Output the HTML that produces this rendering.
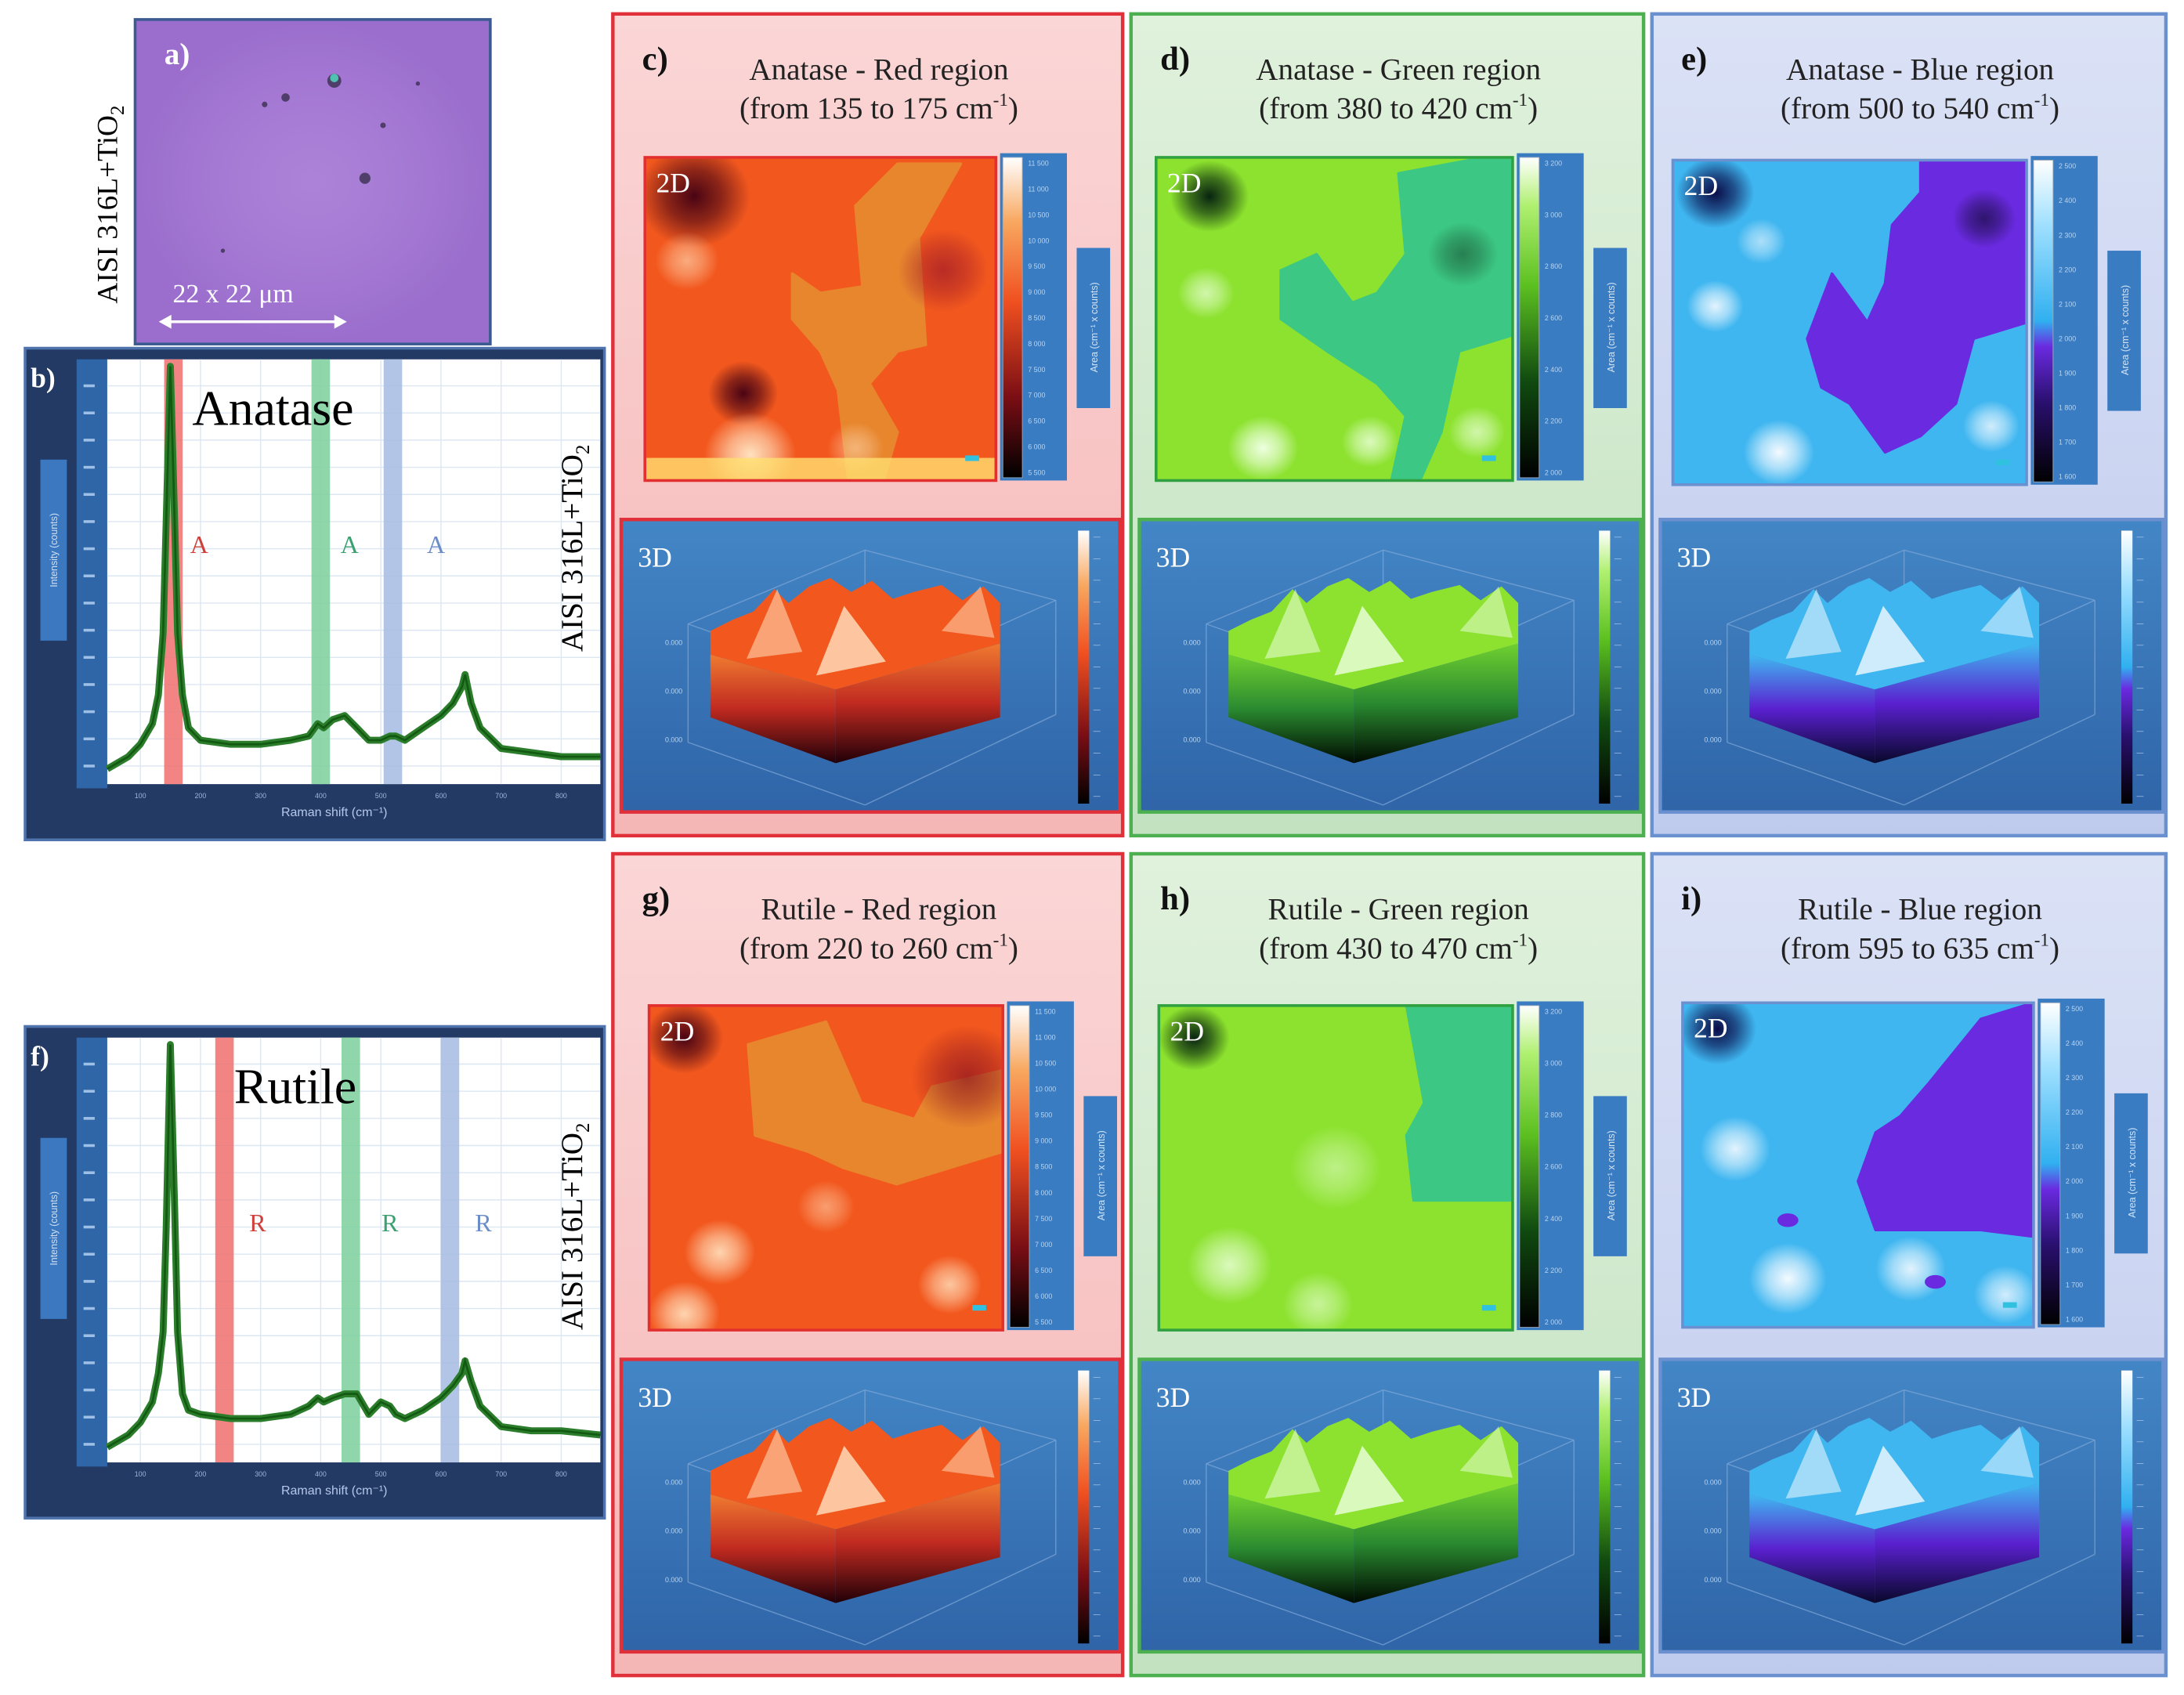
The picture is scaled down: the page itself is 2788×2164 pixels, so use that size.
<!DOCTYPE html>
<html><head><meta charset="utf-8">
<style>
html,body{margin:0;padding:0;background:#fff;}
svg{display:block;}
text{font-family:"Liberation Serif",serif;}
.sans{font-family:"Liberation Sans",sans-serif;}
</style></head>
<body>
<svg id="fig" xmlns="http://www.w3.org/2000/svg" width="2788" height="2164" viewBox="0 0 1568 1217" preserveAspectRatio="none">
<rect x="0" y="0" width="1568" height="1217" fill="#ffffff"/>
<defs></defs>
</svg>
<script>
// ---- spectrum data ----
const ramanShift=[45,80,100,120,130,138,143,150,157,162,170,180,200,250,300,350,380,395,405,420,440,460,480,500,515,525,540,570,600,620,635,640,650,665,700,750,800,865];
const anataseIntensity=[.02,.05,.08,.13,.2,.35,.62,1.0,.62,.35,.2,.12,.09,.08,.08,.09,.1,.13,.12,.14,.15,.12,.09,.09,.1,.1,.09,.12,.15,.18,.22,.25,.18,.12,.07,.06,.05,.05];
const rutileIntensity=[.02,.05,.08,.13,.2,.3,.55,1.0,.6,.3,.15,.11,.1,.09,.09,.1,.12,.14,.13,.14,.15,.15,.1,.13,.12,.1,.09,.11,.14,.17,.2,.23,.18,.12,.07,.06,.06,.05];
const anataseBands=[[135,175],[380,420],[500,540]];
const rutileBands=[[220,260],[430,470],[595,635]];
const xTicks=[100,200,300,400,500,600,700,800];
const xDomain=[45,865];

const NS='http://www.w3.org/2000/svg';
const svg=document.getElementById('fig');
const defs=svg.querySelector('defs');
function el(tag,attrs,parent){const e=document.createElementNS(NS,tag);for(const k in attrs)e.setAttribute(k,attrs[k]);(parent||svg).appendChild(e);return e;}
function txt(s,attrs,parent){const t=el('text',attrs,parent);t.textContent=s;return t;}
let gid=0;
function linGrad(stops,vertical){const id='g'+(gid++);const g=el('linearGradient',vertical?{id,x1:0,y1:1,x2:0,y2:0}:{id,x1:0,y1:0,x2:1,y2:0},defs);stops.forEach(s=>el('stop',{offset:s[0],'stop-color':s[1]},g));return 'url(#'+id+')';}
function radGrad(color,op){const id='g'+(gid++);const g=el('radialGradient',{id},defs);el('stop',{offset:0,'stop-color':color,'stop-opacity':op},g);el('stop',{offset:0.5,'stop-color':color,'stop-opacity':op*0.6},g);el('stop',{offset:1,'stop-color':color,'stop-opacity':0},g);return 'url(#'+id+')';}

// ---- panel a ----
const pa=el('g',{});


el('rect',{x:97,y:14,width:255,height:233,fill:'#9b6ecd',stroke:'#3a5a90','stroke-width':2},pa);
el('rect',{x:99,y:16,width:251,height:229,fill:radGrad('#b890e0',0.6)},pa);
[[205,70,3],[240,58,5],[262,128,4],[190,75,2],[275,90,2],[160,180,1.5],[300,60,1.5]].forEach(p=>el('circle',{cx:p[0],cy:p[1],r:p[2],fill:'#3a3050',opacity:.8},pa));
el('circle',{cx:240,cy:56,r:3,fill:'#50c0b0'},pa);
txt('a)',{x:118,y:46,fill:'#fff','font-size':22,'font-weight':'bold'},pa);
txt('22 x 22 μm',{x:124,y:217,fill:'#fff','font-size':19},pa);
el('line',{x1:120,y1:231,x2:243,y2:231,stroke:'#fff','stroke-width':2},pa);
el('path',{d:'M114,231 l9,-5 v10 z M249,231 l-9,-5 v10 z',fill:'#fff'},pa);
const vt1=txt('AISI 316L+TiO',{x:0,y:0,'font-size':21,fill:'#000',transform:'translate(84,218) rotate(-90)'});


el('tspan',{'font-size':14,dy:5},vt1).textContent='2';

// ---- spectra ----
function spectrum(name,label,title,titleX,y0,intensity,bands,letter,letterX){
  const g=el('g',{});
  
  
  const H=353;
  el('rect',{x:18,y:y0,width:416,height:H,fill:'#223a64',stroke:'#4f73ad','stroke-width':2},g);
  el('rect',{x:55,y:y0+8,width:22,height:H-45,fill:'#2f66a8'},g);
  const px0=77,px1=431,py0=y0+8,py1=y0+H-40;
  el('rect',{x:px0,y:py0,width:px1-px0,height:py1-py0,fill:'#ffffff'},g);
  const X=v=>px0+(v-xDomain[0])/(xDomain[1]-xDomain[0])*(px1-px0);
  const Y=v=>py1-5-v*(py1-py0-10);
  for(let yy=py0+19;yy<py1;yy+=19.5){el('line',{x1:px0,y1:yy,x2:px1,y2:yy,stroke:'#dde7f2','stroke-width':.8},g);
    el('rect',{x:60,y:yy-1,width:8,height:2,fill:'#9fc0e6'},g);}
  xTicks.forEach(t=>{el('line',{x1:X(t),y1:py0,x2:X(t),y2:py1,stroke:'#dde7f2','stroke-width':.8},g);
    txt(String(t),{x:X(t),y:py1+10,'font-size':5,fill:'#9fb4d8','text-anchor':'middle',class:'sans'},g);});
  const bandColors=['#f0706e','#7ccf9c','#a4bbe2'];
  bands.forEach((b,i)=>{const r=el('rect',{x:X(b[0])+2,y:py0,width:X(b[1])-X(b[0])-4,height:py1-py0,fill:bandColors[i],opacity:.85},g);
    
    });
  let d='';ramanShift.forEach((s,i)=>{d+=(i?'L':'M')+X(s).toFixed(1)+','+Y(intensity[i]).toFixed(1);});
  const line=el('path',{d,fill:'none',stroke:'#2b7d2b','stroke-width':5,'stroke-linejoin':'round'},g);
  
  
  el('path',{d,fill:'none',stroke:'#125a12','stroke-width':1.5},g);
  const lc=['#d0403a','#3aa070','#6a8cc8'];
  letterX.forEach((lx,i)=>txt(letter,{x:lx,y:y0+147,'font-size':18,fill:lc[i],'text-anchor':'middle'},g));
  txt(title,{x:titleX,y:y0+55,'font-size':36,fill:'#000'},g);
  txt(label,{x:22,y:y0+28,'font-size':20,'font-weight':'bold',fill:'#fff'},g);
  const yb=el('rect',{x:29,y:y0+80,width:19,height:130,fill:'#3b78c0'},g);
  txt('Intensity (counts)',{x:0,y:0,'font-size':7,fill:'#cfe0f5','text-anchor':'middle',class:'sans',transform:`translate(41,${y0+145}) rotate(-90)`},g);
  txt('Raman shift (cm⁻¹)',{x:240,y:y0+H-17,'font-size':9,fill:'#b6c8ea','text-anchor':'middle',class:'sans'},g);
  const vt=txt('AISI 316L+TiO',{x:0,y:0,'font-size':22,fill:'#000',transform:`translate(418,${y0+218}) rotate(-90)`},g);
  el('tspan',{'font-size':14,dy:5},vt).textContent='2';
}
spectrum('panel-b-anatase-spectrum','b)','Anatase',138,250,anataseIntensity,anataseBands,'A',[143,251,313]);
spectrum('panel-f-rutile-spectrum','f)','Rutile',168,737,rutileIntensity,rutileBands,'R',[185,280,347]);

// ---- map panels ----
const themes={
 red:{bg:['#f5b6b6','#fbd6d6'],border:'#e0303a',base:'#f2581e',region:'#e8862e',cb:[[0,'#000'],[.25,'#7a0e14'],[.55,'#f05020'],[.8,'#f8a860'],[1,'#fff']],dark:'#4a0414',light:'#ffe2c0',front:['#f07a30','#c02a20','#200008']},
 green:{bg:['#c2e2c0','#e0f1dc'],border:'#4cb050',base:'#8ce22e',region:'#3cc884',cb:[[0,'#000'],[.3,'#104a10'],[.6,'#5cc020'],[.85,'#b0f070'],[1,'#fff']],dark:'#082410',light:'#eeffe0',front:['#70d030','#2a8a30','#000a00']},
 blue:{bg:['#bfcbed','#dbe2f6'],border:'#6a90d0',base:'#3fb6f0',region:'#6a2ae0',cb:[[0,'#000'],[.25,'#2a1070'],[.42,'#6a2ae0'],[.5,'#30b0f0'],[.8,'#a0e0ff'],[1,'#fff']],dark:'#0a0c48',light:'#f4faff',front:['#40b8f0','#5a20d0','#08082a']}
};
const panels=[
 {id:'c',t1:'Anatase  - Red region',t2:'(from  135 to 175 cm',th:'red',x:440,w:366,y:10,map:[463,113,252,232],
  region:[[.42,.36],[.5,.42],[.62,.4],[.6,.15],[.72,.02],[.9,.02],[.78,.25],[.8,.58],[.72,.6],[.64,.7],[.72,.85],[.68,1],[.58,1],[.55,.72],[.5,.6],[.42,.5]],
  blobs:[[.14,.12,.16,'dark',1],[.28,.73,.1,'dark',1],[.85,.35,.13,'#a01828',.7],[.3,.92,.13,'light',1],[.12,.32,.09,'light',.6],[.6,.9,.08,'light',.5]],strip:'#ffe070'},
 {id:'d',t1:'Anatase - Green region',t2:'(from 380 to 420 cm',th:'green',x:812,w:368,y:10,map:[830,113,256,232],
  region:[[.35,.35],[.45,.3],[.55,.45],[.62,.42],[.7,.3],[.68,.05],[.92,0],[1,0],[1,.55],[.85,.6],[.8,.85],[.74,1],[.66,1],[.7,.8],[.62,.7],[.48,.6],[.35,.5]],
  blobs:[[.15,.12,.11,'dark',1],[.86,.3,.1,'#1a5030',.6],[.3,.9,.1,'light',1],[.6,.88,.08,'light',.8],[.14,.42,.08,'light',.7],[.9,.85,.08,'light',.7]],strip:null},
 {id:'e',t1:'Anatase - Blue region',t2:'(from 500 to 540 cm',th:'blue',x:1186,w:369,y:10,map:[1201,115,254,233],
  region:[[.38,.55],[.45,.35],[.55,.5],[.6,.38],[.62,.2],[.7,.1],[.7,0],[1,0],[1,.5],[.85,.55],[.8,.75],[.7,.85],[.6,.9],[.5,.75],[.42,.7]],
  blobs:[[.12,.1,.11,'dark',1],[.88,.18,.09,'#201050',.8],[.3,.9,.1,'light',1],[.12,.45,.08,'light',.9],[.9,.82,.08,'light',.8],[.25,.25,.07,'light',.6]],strip:null},
 {id:'g',t1:'Rutile  - Red region',t2:'(from  220 to 260 cm',th:'red',x:440,w:366,y:613,map:[466,722,254,233],
  region:[[.28,.12],[.5,.05],[.6,.3],[.75,.35],[.8,.25],[1,.2],[1,.45],[.85,.5],[.7,.55],[.55,.5],[.45,.45],[.3,.4]],
  blobs:[[.1,.1,.11,'dark',1],[.9,.22,.16,'#8a1020',.7],[.2,.76,.1,'light',.9],[.1,.95,.1,'light',.9],[.85,.86,.09,'light',.8],[.5,.62,.08,'light',.5]],strip:null},
 {id:'h',t1:'Rutile - Green region',t2:'(from 430 to 470 cm',th:'green',x:812,w:368,y:613,map:[832,722,254,233],
  region:[[.7,0],[1,0],[1,.6],[.72,.6],[.7,.4],[.75,.3]],
  blobs:[[.1,.1,.1,'dark',1],[.2,.8,.12,'light',.8],[.5,.5,.13,'light',.5],[.45,.92,.1,'light',.6]],strip:null},
 {id:'i',t1:'Rutile - Blue region',t2:'(from 595 to 635 cm',th:'blue',x:1186,w:369,y:613,map:[1208,720,252,233],
  region:[[.5,.55],[.55,.4],[.62,.35],[.7,.25],[.85,.05],[1,0],[1,.72],[.85,.7],[.7,.7],[.55,.7]],
  blobs:[[.1,.08,.11,'dark',1],[.15,.45,.1,'light',.9],[.3,.85,.11,'light',1],[.65,.82,.1,'light',.9],[.92,.9,.09,'light',.8],[.3,.67,.03,'#6a2ae0',1],[.72,.86,.03,'#6a2ae0',1]],strip:null}
];
const cbLabels={red:['11 500','11 000','10 500','10 000','9 500','9 000','8 500','8 000','7 500','7 000','6 500','6 000','5 500'],
 green:['3 200','3 000','2 800','2 600','2 400','2 200','2 000'],
 blue:['2 500','2 400','2 300','2 200','2 100','2 000','1 900','1 800','1 700','1 600']};

panels.forEach(p=>{
  const T=themes[p.th];
  const g=el('g',{});
  
  
  el('rect',{x:p.x,y:p.y,width:p.w,height:590,fill:linGrad([[0,T.bg[0]],[1,T.bg[1]]],true),stroke:T.border,'stroke-width':2.5},g);
  txt(p.id+')',{x:p.x+21,y:p.y+40,'font-size':24,'font-weight':'bold',fill:'#111'},g);
  const cx=p.x+p.w/2+8;
  txt(p.t1,{x:cx,y:p.y+47,'font-size':22,fill:'#222','text-anchor':'middle'},g);
  const t2=txt(p.t2,{x:cx,y:p.y+75,'font-size':22,fill:'#222','text-anchor':'middle'},g);
  el('tspan',{'font-size':13,dy:-9},t2).textContent='-1';
  el('tspan',{dy:9},t2).textContent=')';
  // 2D map
  const [mx,my,mw,mh]=p.map;
  const cid='clip'+p.id;
  const cp=el('clipPath',{id:cid},defs);el('rect',{x:mx,y:my,width:mw,height:mh},cp);
  const m=el('g',{'clip-path':'url(#'+cid+')'},g);
  
  
  el('rect',{x:mx,y:my,width:mw,height:mh,fill:T.base},m);
  el('polygon',{points:p.region.map(q=>(mx+q[0]*mw)+','+(my+q[1]*mh)).join(' '),fill:T.region,stroke:T.region,'stroke-width':2,'stroke-linejoin':'round'},m);
  p.blobs.forEach(b=>{const col=b[3]==='dark'?T.dark:b[3]==='light'?T.light:b[3];
    if(b[2]<.05){el('ellipse',{cx:mx+b[0]*mw,cy:my+b[1]*mh,rx:b[2]*mw,ry:b[2]*mh*.7,fill:col},m);}
    else el('ellipse',{cx:mx+b[0]*mw,cy:my+b[1]*mh,rx:b[2]*mw,ry:b[2]*mh,fill:radGrad(col,b[4])},m);});
  if(p.strip)el('rect',{x:mx,y:my+mh*.93,width:mw,height:mh*.07,fill:p.strip,opacity:.8},m);
  el('rect',{x:mx,y:my,width:mw,height:mh,fill:'none',stroke:p.th==='red'?'#e23030':p.th==='green'?'#30a040':'#6a90d0','stroke-width':2},g);
  txt('2D',{x:mx+8,y:my+25,'font-size':20,fill:'#fff'},g);
  el('rect',{x:mx+mw-22,y:my+mh-18,width:10,height:4,fill:'#30c0e0'},g);
  // colorbar
  const cbx=mx+mw+3;
  el('rect',{x:cbx,y:my-3,width:48,height:mh+3,fill:'#3a7cc2'},g);
  const cb=el('rect',{x:cbx+2,y:my,width:14,height:mh-2,fill:linGrad(T.cb,true),stroke:'#9ab',"stroke-width":.5},g);
  
  
  const L=cbLabels[p.th];
  L.forEach((s,i)=>txt(s,{x:cbx+20,y:my+6+i*(mh-10)/(L.length-1),'font-size':5,fill:'#b8d4f0',class:'sans'},g));
  el('rect',{x:cbx+55,y:my+65,width:24,height:115,fill:'#3a7cc2'},g);
  txt('Area (cm⁻¹ x counts)',{x:0,y:0,'font-size':7,fill:'#d0e4f8','text-anchor':'middle',class:'sans',transform:`translate(${cbx+70},${my+122}) rotate(-90)`},g);
  // 3D
  const bx=p.x+6,by=p.y+363,bw=p.w-8,bh=210;
  const b3=el('g',{transform:`translate(${bx},${by})`},g);
  
  
  el('rect',{x:0,y:0,width:bw,height:bh,fill:linGrad([[0,'#2f65a8'],[1,'#4386c6']],true),stroke:T.border,'stroke-width':2.5},b3);
  const wf='#7fa8d8';
  [[48,75,175,22],[175,22,312,58],[48,75,48,160],[312,58,312,140],[175,22,175,100],[48,160,175,205],[175,205,312,140],[48,75,175,120],[175,120,312,58]].forEach(l=>el('line',{x1:l[0],y1:l[1],x2:l[2],y2:l[3],stroke:wf,'stroke-width':.8,opacity:.7},b3));
  ['0.000','0.000','0.000'].forEach((s,i)=>txt(s,{x:44,y:90+i*35,'font-size':5,fill:'#b8d4f0','text-anchor':'end',class:'sans'},b3));
  el('polygon',{points:'64,97 154,122 154,175 64,142',fill:linGrad([[0,T.front[2]],[.5,T.front[1]],[1,T.front[0]]],true)},b3);
  el('polygon',{points:'154,122 272,89 272,142 154,175',fill:linGrad([[0,T.front[2]],[.5,T.front[1]],[1,T.front[0]]],true)},b3);
  el('polygon',{points:'64,97 64,80 80,72 95,66 110,50 120,60 135,48 150,42 165,52 180,44 195,57 210,52 230,47 245,58 260,48 272,60 272,89 154,122',fill:T.base},b3);
  el('polygon',{points:'90,100 112,50 130,95',fill:T.light,opacity:.55},b3);
  el('polygon',{points:'140,112 160,62 190,102',fill:T.light,opacity:.8},b3);
  el('polygon',{points:'230,80 258,48 268,85',fill:T.light,opacity:.5},b3);
  txt('3D',{x:12,y:34,'font-size':20,fill:'#fff'},b3);
  el('rect',{x:bw-30,y:8,width:8,height:bh-14,fill:linGrad(T.cb,true)},b3);
  for(let i=0;i<13;i++)txt('—',{x:bw-19,y:14+i*15.5,'font-size':5,fill:'#b8d4f0',class:'sans'},b3);
});
</script>
</body></html>
